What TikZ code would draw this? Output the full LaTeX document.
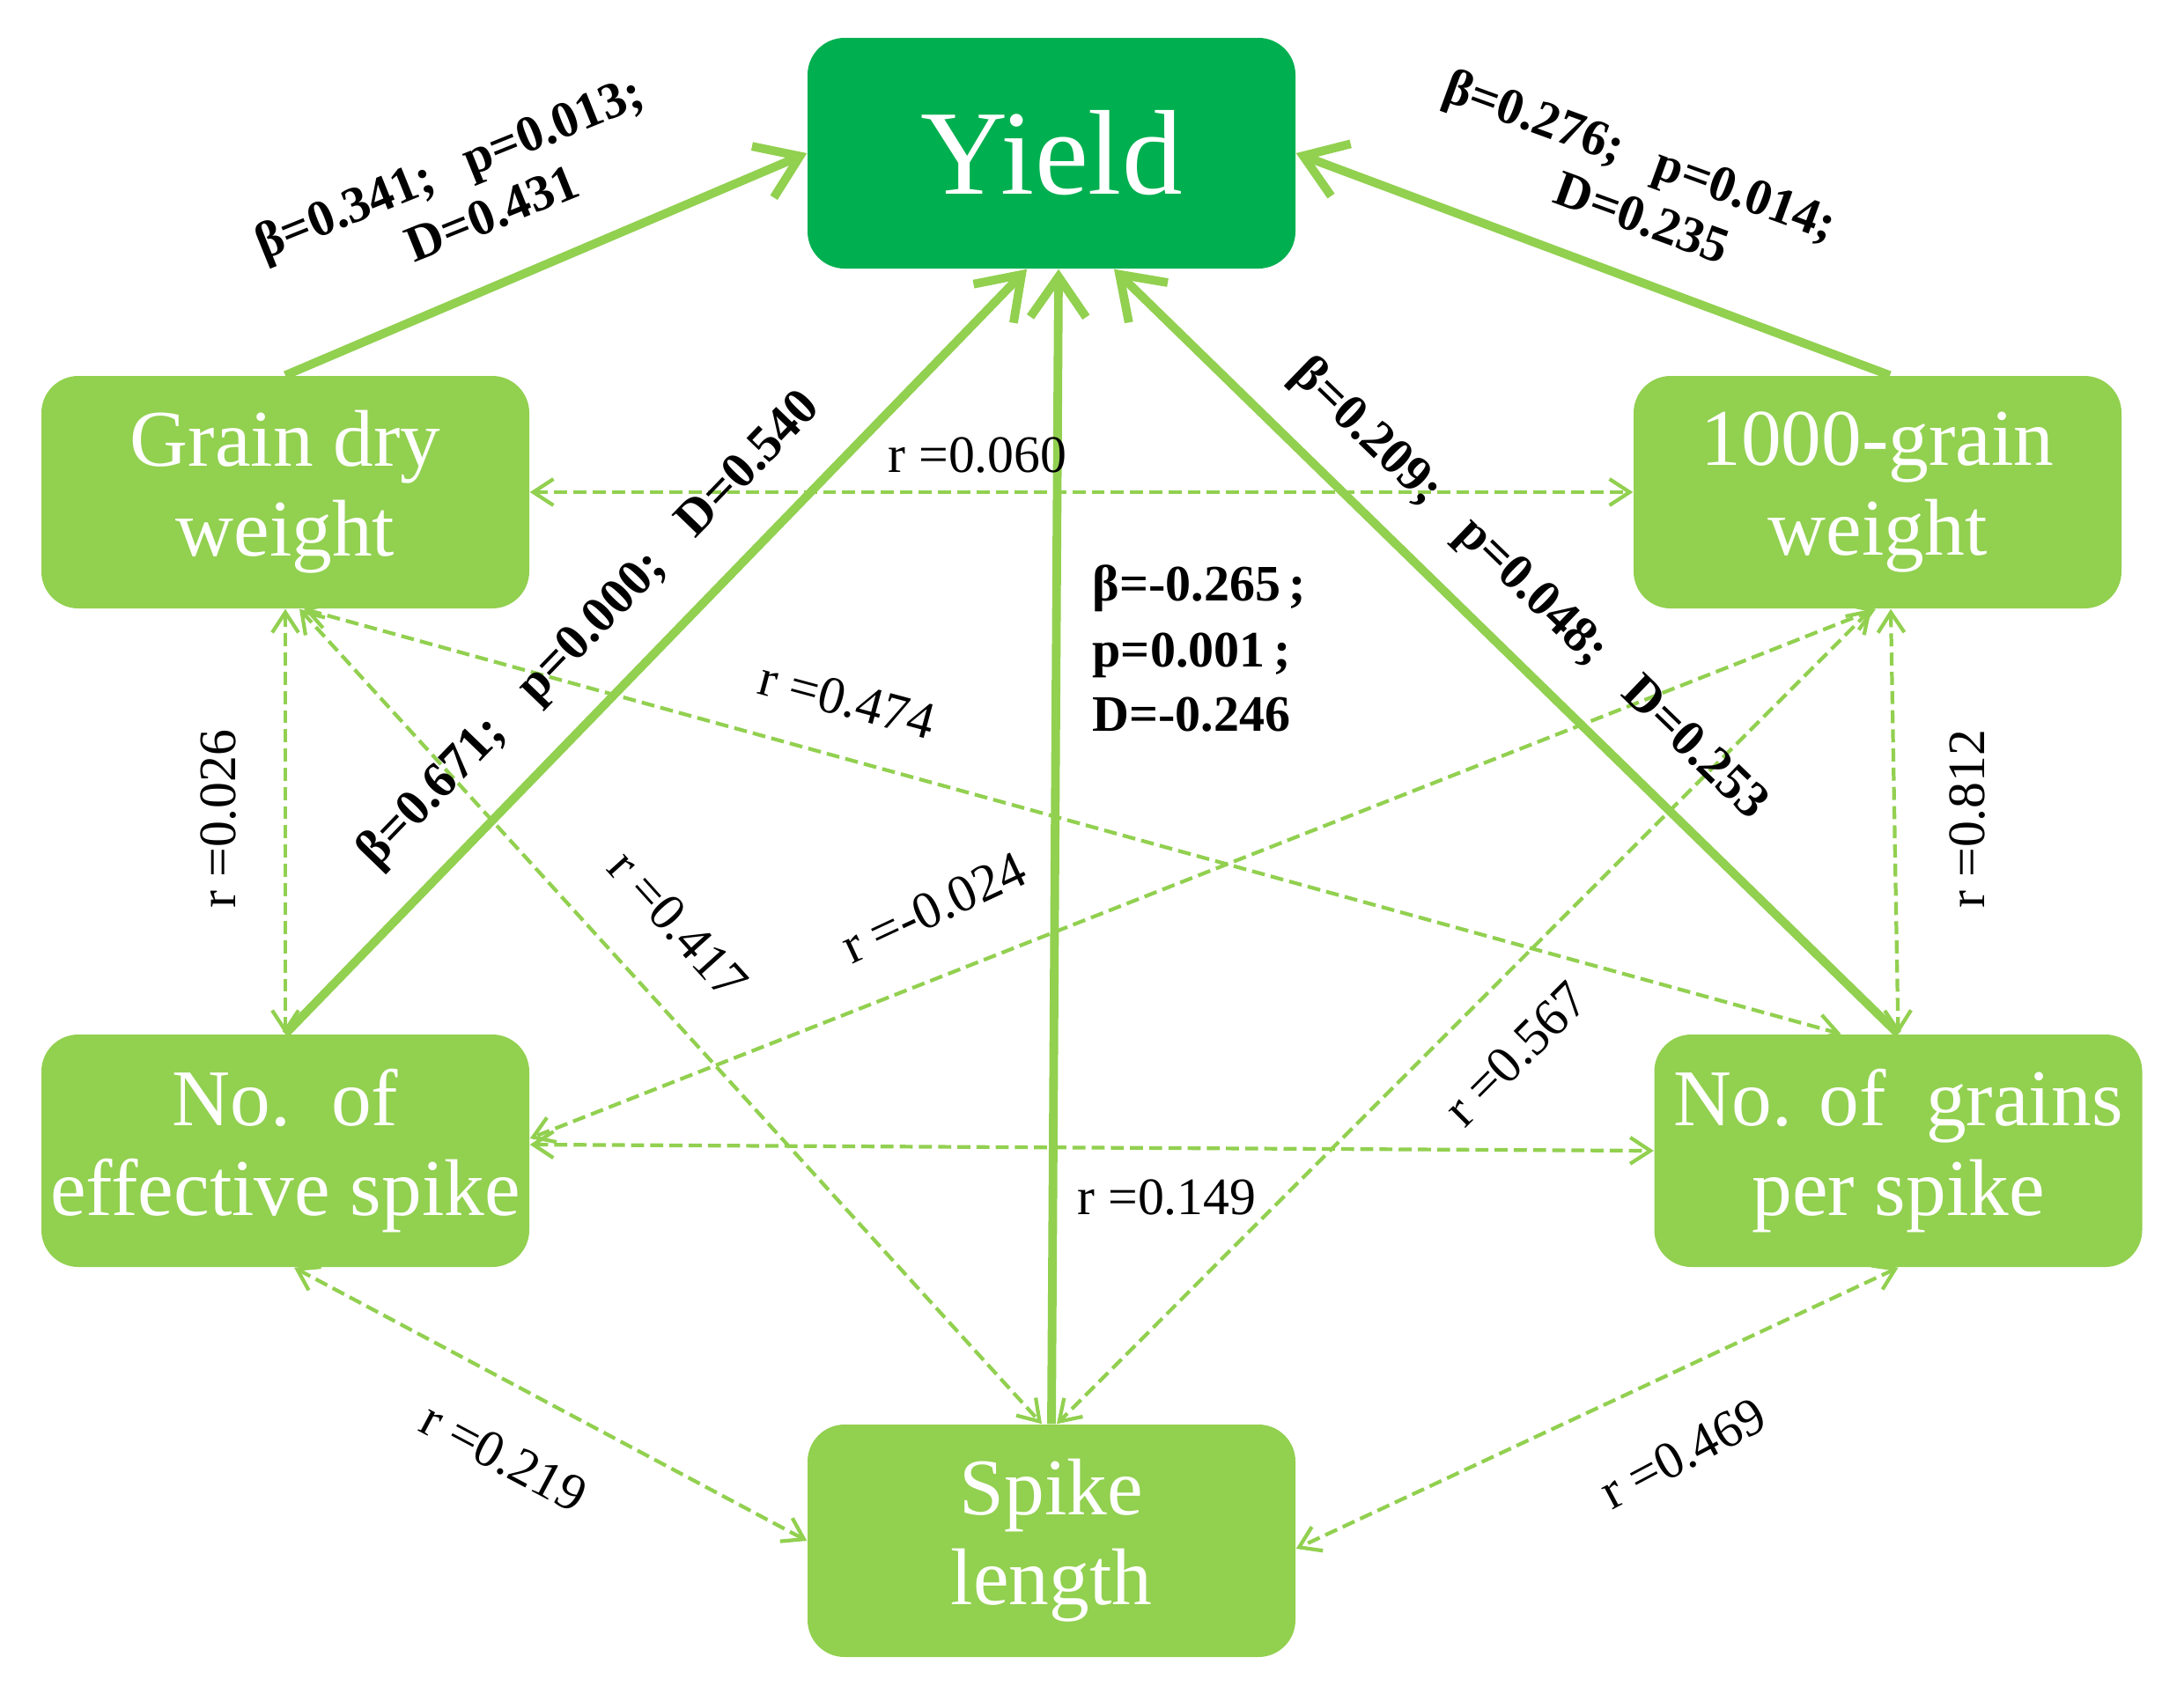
\documentclass[tikz,border=0pt]{standalone}
\usepackage{fontspec}
\setmainfont{Liberation Serif}
\usetikzlibrary{arrows.meta,calc}
\definecolor{dkgreen}{HTML}{00B050}
\definecolor{ltgreen}{HTML}{92D050}
\begin{document}
\begin{tikzpicture}[
  box/.style={rectangle, rounded corners=0.42cm, fill=ltgreen, text=white,
    minimum width=5.54cm, minimum height=2.64cm, inner sep=0pt, align=center,
    font=\fontsize{26}{29}\selectfont},
  ybox/.style={box, fill=dkgreen, minimum height=2.62cm, font=\fontsize{39}{44}\selectfont},
  solidarr/.style={draw=ltgreen, line width=2.8pt, -{Straight Barb[length=13pt,width=18pt]}},
  corr/.style={draw=ltgreen, line width=1.2pt, dash pattern=on 4.2pt off 2pt,
    {Straight Barb[length=6.5pt,width=8.5pt]}-{Straight Barb[length=6.5pt,width=8.5pt]}},
  blab/.style={font=\fontsize{16.5}{19}\selectfont\bfseries, align=center, inner sep=0pt},
  rlab/.style={font=\fontsize{17}{20}\selectfont, inner sep=0pt},
]
\useasboundingbox (0,0) rectangle (24.8,-19.31);

% nodes
\node[ybox] (yield) at (11.94,-1.74) {Yield};
\node[box] (gdw) at (3.24,-5.59) {Grain dry\\weight};
\node[box] (tgw) at (21.32,-5.59) {1000-grain\\weight};
\node[box] (nes) at (3.24,-13.07) {No.\ \ of\\effective spike};
\node[box] (ngps) at (21.555,-13.07) {No. of\ \ grains\\per spike};
\node[box] (sl) at (11.94,-17.50) {Spike\\length};

% direct paths
\draw[solidarr] (gdw.north) -- (yield.west);
\draw[solidarr] ([xshift=0.14cm]tgw.north) -- (yield.east);
\draw[solidarr] (nes.north) -- ([xshift=-0.28cm]yield.south);
\draw[solidarr] (sl.north) -- ([xshift=0.08cm]yield.south);
\draw[solidarr] (ngps.north) -- ([xshift=0.71cm]yield.south);

% correlations
\draw[corr] (gdw.east) -- (tgw.west);
\draw[corr] (gdw.south) -- (nes.north);
\draw[corr] ([xshift=0.15cm]tgw.south) -- (ngps.north);
\draw[corr] ([xshift=0.21cm]gdw.south) -- ([xshift=-0.65cm]ngps.north);
\draw[corr] ([xshift=0.16cm]gdw.south) -- ([xshift=-0.11cm]sl.north);
\draw[corr] ([xshift=-0.02cm]tgw.south) -- ([yshift=0.14cm]nes.east);
\draw[corr] ([xshift=-0.07cm]tgw.south) -- ([xshift=0.06cm]sl.north);
\draw[corr] ([yshift=0.07cm]nes.east) -- (ngps.west);
\draw[corr] ([xshift=0.1cm]nes.south) -- (sl.west);
\draw[corr] (ngps.south) -- ([yshift=-0.09cm]sl.east);

% path labels
\node[blab, rotate=22] (l1) at (5.22,-2.20) {β=0.341;\hspace{0.7em}p=0.013;\\\hspace*{0.9em}D=0.431};
\node[blab, rotate=-20] (l2) at (18.52,-2.06) {β=0.276;\hspace{0.7em}p=0.014;\\\hspace*{0.9em}D=0.235};
\node[blab, rotate=46] (l3) at (6.70,-7.16) {β=0.671;\hspace{0.8em}p=0.000;\hspace{0.8em}D=0.540};
\node[blab, rotate=-44] (l4) at (17.36,-6.70) {β=0.209;\hspace{0.8em}p=0.048;\hspace{0.8em}D=0.253};
\node[blab, anchor=base west] (l5a) at (12.40,-6.82) {β=-0.265\,;};
\node[blab, anchor=base west] (l5b) at (12.40,-7.57) {p=0.001\,;};
\node[blab, anchor=base west] (l5c) at (12.40,-8.30) {D=-0.246};

% correlation labels
\node[rlab] (r1) at (11.10,-5.17) {r =0.060};
\node[rlab, rotate=90] (r2) at (2.48,-9.30) {r =0.026};
\node[rlab, rotate=90] (r3) at (22.34,-9.30) {r =0.812};
\node[rlab, rotate=-15] (r4) at (9.62,-7.95) {r =0.474};
\node[rlab, rotate=-48] (r5) at (7.70,-10.50) {r =0.417};
\node[rlab, rotate=25] (r6) at (10.60,-10.31) {r =-0.024};
\node[rlab, rotate=45] (r7) at (17.21,-11.97) {r =0.567};
\node[rlab] (r8) at (13.25,-13.60) {r =0.149};
\node[rlab, rotate=-28] (r9) at (5.72,-16.55) {r =0.219};
\node[rlab, rotate=28] (r10) at (19.11,-16.51) {r =0.469};
\end{tikzpicture}
\end{document}
